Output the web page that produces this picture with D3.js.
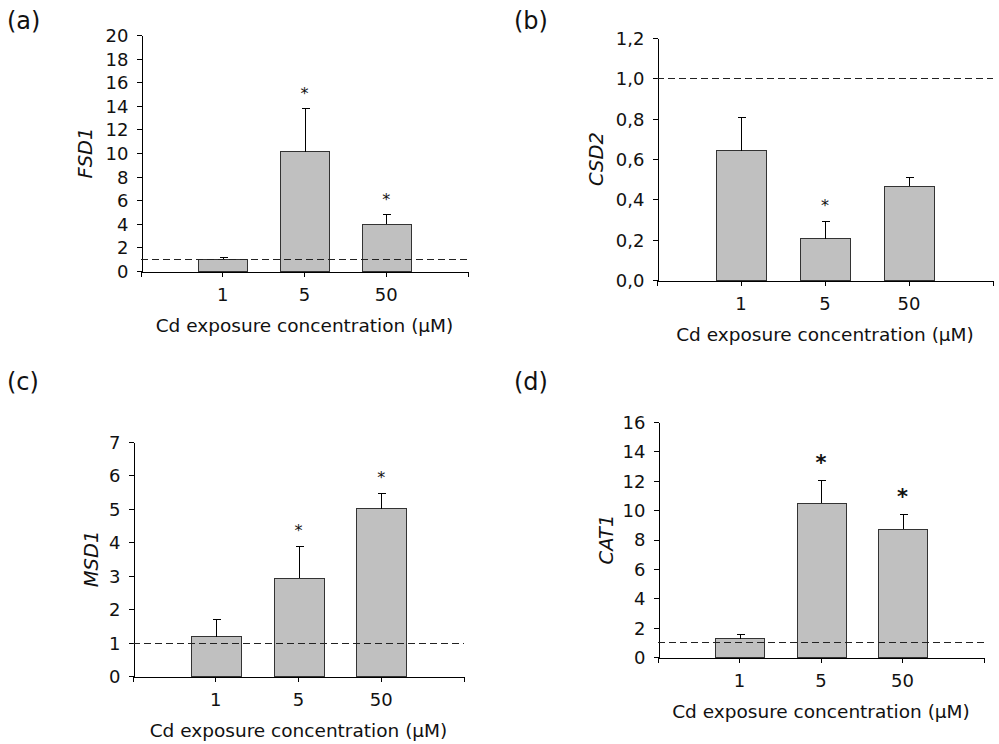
<!DOCTYPE html>
<html>
<head>
<meta charset="utf-8">
<script src="https://cdn.jsdelivr.net/npm/d3@7"></script>
<style>
  body { margin: 0; background: #fff; }
  svg text { font-family: "DejaVu Sans", Verdana, sans-serif; fill: #111; }
  .axis path, .axis line { stroke: #000; shape-rendering: crispEdges; }
  .bar { fill: #c0c0c0; stroke: #333; stroke-width: 1; shape-rendering: crispEdges; }
  .err { stroke: #000; stroke-width: 1; shape-rendering: crispEdges; }
  .ref { stroke: #222; stroke-dasharray: 7,4; shape-rendering: crispEdges; }
</style>
</head>
<body>
<svg id="fig" width="999" height="744"></svg>
<script>
// data
const concentrations = ["1", "5", "50"];

const fsd1 = [0.95, 10.1, 3.95];
const fsd1Err = [0.22, 3.7, 0.87];
const fsd1Sig = [false, true, true];
const fsd1Ticks = [0, 2, 4, 6, 8, 10, 12, 14, 16, 18, 20];

const csd2 = [0.64, 0.205, 0.466];
const csd2Err = [0.17, 0.09, 0.045];
const csd2Sig = [false, true, false];
const csd2Ticks = [0, 0.2, 0.4, 0.6, 0.8, 1.0, 1.2];

const msd1 = [1.17, 2.92, 5.01];
const msd1Err = [0.53, 0.98, 0.47];
const msd1Sig = [false, true, true];
const msd1Ticks = [0, 1, 2, 3, 4, 5, 6, 7];

const cat1 = [1.25, 10.48, 8.71];
const cat1Err = [0.35, 1.55, 1.0];
const cat1Sig = [false, true, true];
const cat1Ticks = [0, 2, 4, 6, 8, 10, 12, 14, 16];

const controlLevel = 1;

// panel frames: left/right of the x axis, top tick and zero line
const panels = [
  {tag: "(a)", gene: "FSD1", vals: fsd1, errs: fsd1Err, sig: fsd1Sig, ticks: fsd1Ticks,
   fmt: d3.format("d"), left: 141, right: 468, top: 35, bottom: 271,
   tagX: 7, tagY: 29, labelX: 92, star: {size: 16, weight: "normal", gap: 19}},
  {tag: "(b)", gene: "CSD2", vals: csd2, errs: csd2Err, sig: csd2Sig, ticks: csd2Ticks,
   fmt: d => d3.format(".1f")(d).replace(".", ","), left: 657, right: 993, top: 38, bottom: 280,
   tagX: 514, tagY: 29, labelX: 603, star: {size: 16, weight: "normal", gap: 19}},
  {tag: "(c)", gene: "MSD1", vals: msd1, errs: msd1Err, sig: msd1Sig, ticks: msd1Ticks,
   fmt: d3.format("d"), left: 133, right: 464, top: 442, bottom: 676,
   tagX: 7, tagY: 390, labelX: 98, star: {size: 16, weight: "normal", gap: 19}},
  {tag: "(d)", gene: "CAT1", vals: cat1, errs: cat1Err, sig: cat1Sig, ticks: cat1Ticks,
   fmt: d3.format("d"), left: 658, right: 984, top: 422, bottom: 657,
   tagX: 514, tagY: 390, labelX: 613, star: {size: 21, weight: "bold", gap: 23}}
];

const svg = d3.select("#fig");

// bigger tick text than d3's default
function styleTicks(a) {
  a.attr("font-size", null).attr("font-family", null);
  a.selectAll("text")
    .style("font-size", "18px")
    .style("font-family", "'DejaVu Sans', Verdana, sans-serif")
    .style("fill", "#111");
}

panels.forEach(p => {
  const g = svg.append("g");

  const x = d3.scaleBand()
              .domain(concentrations)
              .range([p.left, p.right])
              .paddingInner(0.4)
              .paddingOuter(0.7);

  const y = d3.scaleLinear()
              .domain([0, d3.max(p.ticks)])
              .range([p.bottom, p.top]);

  const rows = concentrations.map((c, i) => ({c: c, v: p.vals[i], e: p.errs[i], s: p.sig[i]}));

  // bars
  g.selectAll(".bar")
    .data(rows)
    .join("rect")
      .attr("class", "bar")
      .attr("x", d => Math.round(x(d.c)) + 0.5)
      .attr("y", d => y(d.v))
      .attr("width", x.bandwidth())
      .attr("height", d => y(0) - y(d.v));

  // upper error bars
  const cx = d => Math.round(x(d.c) + x.bandwidth() / 2) + 0.5;
  g.selectAll(".err-v")
    .data(rows)
    .join("line")
      .attr("class", "err")
      .attr("x1", cx).attr("x2", cx)
      .attr("y1", d => y(d.v)).attr("y2", d => y(d.v + d.e));
  g.selectAll(".err-cap")
    .data(rows)
    .join("line")
      .attr("class", "err")
      .attr("x1", d => cx(d) - 4).attr("x2", d => cx(d) + 4)
      .attr("y1", d => Math.round(y(d.v + d.e)) + 0.5)
      .attr("y2", d => Math.round(y(d.v + d.e)) + 0.5);

  // significance stars
  g.selectAll(".star")
    .data(rows.filter(d => d.s))
    .join("text")
      .attr("x", d => x(d.c) + x.bandwidth() / 2)
      .attr("y", d => y(d.v + d.e) - p.star.gap + p.star.size * 0.6)
      .attr("text-anchor", "middle")
      .style("font-size", p.star.size + "px")
      .style("font-weight", p.star.weight)
      .text("*");

  // axes
  g.append("g")
    .attr("class", "axis")
    .attr("transform", `translate(${p.left + 0.5},0)`)
    .call(d3.axisLeft(y).tickValues(p.ticks).tickFormat(p.fmt).tickSize(5).tickSizeOuter(0).tickPadding(8))
    .call(styleTicks)
    .call(a => a.selectAll("text").attr("dy", "0.36em"));

  g.append("g")
    .attr("class", "axis")
    .attr("transform", `translate(0,${Math.round(p.bottom) + 0.5})`)
    .call(d3.axisBottom(x).tickSize(5).tickSizeOuter(5).tickPadding(12))
    .call(styleTicks);

  // control level
  g.append("line")
    .attr("class", "ref")
    .attr("x1", p.left).attr("x2", p.right)
    .attr("y1", Math.round(y(controlLevel)) + 0.5)
    .attr("y2", Math.round(y(controlLevel)) + 0.5);

  // titles
  g.append("text")
    .attr("x", x("5") + x.bandwidth() / 2)
    .attr("y", p.bottom + 61)
    .attr("text-anchor", "middle")
    .style("font-size", "18.5px")
    .text("Cd exposure concentration (µM)");

  g.append("text")
    .attr("transform", `translate(${p.labelX},${(p.top + p.bottom) / 2}) rotate(-90)`)
    .attr("text-anchor", "middle")
    .style("font-size", "19.5px")
    .style("font-style", "italic")
    .text(p.gene);

  g.append("text")
    .attr("x", p.tagX)
    .attr("y", p.tagY)
    .style("font-size", "24px")
    .text(p.tag);
});
</script>
</body>
</html>
